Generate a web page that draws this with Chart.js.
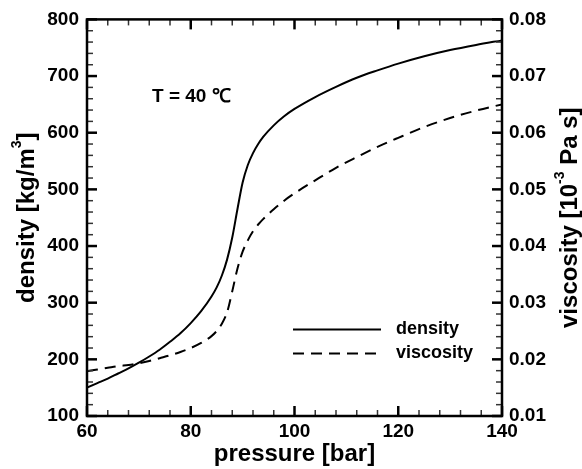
<!DOCTYPE html>
<html>
<head>
<meta charset="utf-8">
<script src="https://cdn.jsdelivr.net/npm/chart.js@4"></script>
<style>
	html, body { margin: 0; padding: 0; background: #fff; }
	#wrap { width: 582px; height: 469px; }
</style>
</head>
<body>
<div id="wrap"><canvas id="chart" width="582" height="469"></canvas></div>
<script>
'use strict';

// values
const pressure = [60, 62, 64, 66, 68, 70, 72, 74, 76, 78, 80, 82, 84, 85, 86, 87, 88, 89, 90, 91, 92, 93, 94, 96, 98, 100, 104, 108, 112, 116, 120, 125, 130, 135, 140];
const density = [150, 158, 166, 175, 184, 194, 205, 217, 231, 246, 264, 285, 311, 327, 348, 376, 415, 465, 512, 543, 564, 580, 593, 613, 629, 642, 663, 681, 697, 710, 722, 735, 746, 755, 763];
const viscosity = [0.0179, 0.0182, 0.0185, 0.0188, 0.0190, 0.0193, 0.0197, 0.0202, 0.0207, 0.0213, 0.0220, 0.0229, 0.0241, 0.0250, 0.0263, 0.0283, 0.0320, 0.0360, 0.0390, 0.0410, 0.0426, 0.0438, 0.0448, 0.0465, 0.0480, 0.0493, 0.0516, 0.0538, 0.0557, 0.0575, 0.0591, 0.0610, 0.0626, 0.0639, 0.0650];

const xTicks = [60, 80, 100, 120, 140];
const densityTicks = [100, 200, 300, 400, 500, 600, 700, 800];
const viscosityTicks = [0.01, 0.02, 0.03, 0.04, 0.05, 0.06, 0.07, 0.08];

const FONT = "'Liberation Sans', Arial, Helvetica, sans-serif";

function toPoints(ys) {
	return pressure.map((p, i) => ({ x: p, y: ys[i] }));
}

// draws a line of text where some parts are superscripts, centred on (0,0)
function richText(ctx, parts, size) {
	const supSize = Math.round(size * 0.6);
	let total = 0;
	parts.forEach(function (part) {
		ctx.font = 'bold ' + (part.sup ? supSize : size) + 'px ' + FONT;
		part.w = ctx.measureText(part.t).width;
		total += part.w;
	});
	let x = -total / 2;
	ctx.textAlign = 'left';
	ctx.textBaseline = 'middle';
	parts.forEach(function (part) {
		ctx.font = 'bold ' + (part.sup ? supSize : size) + 'px ' + FONT;
		ctx.fillText(part.t, x, part.sup ? -size * 0.42 : 0);
		x += part.w;
	});
}

const decorations = {
	id: 'decorations',
	afterDraw(chart) {
		const ctx = chart.ctx;
		const area = chart.chartArea;
		const sx = chart.scales.x;
		const sy = chart.scales.y;
		const sy2 = chart.scales.y2;
		ctx.save();
		ctx.strokeStyle = '#000';
		ctx.fillStyle = '#000';
		ctx.lineCap = 'butt';

		function tick(x1, y1, x2, y2, major) {
			ctx.lineWidth = major ? 2.5 : 1.5;
			ctx.strokeStyle = major ? '#000' : '#333';
			ctx.beginPath();
			ctx.moveTo(x1, y1);
			ctx.lineTo(x2, y2);
			ctx.stroke();
		}

		// x ticks, bottom and top, pointing inward
		for (let i = 0; i <= 20; i++) {
			const px = sx.getPixelForValue(60 + i * 4);
			const major = i % 5 === 0;
			const len = major ? 10 : 6;
			tick(px, area.bottom, px, area.bottom - len, major);
			tick(px, area.top, px, area.top + len, major);
		}
		// left ticks (density)
		for (let i = 0; i <= 35; i++) {
			const py = sy.getPixelForValue(100 + i * 20);
			const major = i % 5 === 0;
			tick(area.left, py, area.left + (major ? 10 : 6), py, major);
		}
		// right ticks (viscosity)
		for (let i = 0; i <= 35; i++) {
			const py = sy2.getPixelForValue(0.01 + i * 0.002);
			const major = i % 5 === 0;
			tick(area.right, py, area.right - (major ? 10 : 6), py, major);
		}

		// frame
		ctx.strokeStyle = '#000';
		ctx.lineWidth = 2.5;
		ctx.strokeRect(area.left, area.top, area.right - area.left, area.bottom - area.top);

		// temperature note
		ctx.font = 'bold 19px ' + FONT;
		ctx.textAlign = 'left';
		ctx.textBaseline = 'middle';
		ctx.fillText('T = 40 \u2103', area.left + 65, area.top + 77);

		// legend
		const lx1 = area.left + 206;
		const lx2 = area.left + 294;
		chart.data.datasets.forEach(function (ds, i) {
			const ly = area.top + 310 + i * 24;
			ctx.lineWidth = ds.borderWidth;
			ctx.setLineDash(ds.borderDash || []);
			ctx.beginPath();
			ctx.moveTo(lx1, ly);
			ctx.lineTo(lx2, ly);
			ctx.stroke();
			ctx.setLineDash([]);
			ctx.font = 'bold 18px ' + FONT;
			ctx.fillText(ds.label, lx2 + 15, ly);
		});

		// rotated axis titles
		const midY = (area.top + area.bottom) / 2;
		ctx.save();
		ctx.translate(27, midY);
		ctx.rotate(-Math.PI / 2);
		richText(ctx, [{ t: 'density [kg/m' }, { t: '3', sup: true }, { t: ']' }], 24);
		ctx.restore();

		ctx.save();
		ctx.translate(570, midY);
		ctx.rotate(-Math.PI / 2);
		richText(ctx, [{ t: 'viscosity [10' }, { t: '-3', sup: true }, { t: ' Pa s]' }], 24);
		ctx.restore();

		ctx.restore();
	}
};

const tickFont = { family: FONT, size: 19, weight: 'bold' };

const config = {
	type: 'line',
	data: {
		datasets: [{
			label: 'density',
			data: toPoints(density),
			yAxisID: 'y',
			borderColor: '#000',
			borderWidth: 2,
			pointRadius: 0,
			fill: false,
			cubicInterpolationMode: 'monotone'
		}, {
			label: 'viscosity',
			data: toPoints(viscosity),
			yAxisID: 'y2',
			borderColor: '#000',
			borderWidth: 2,
			borderDash: [11, 7],
			pointRadius: 0,
			fill: false,
			cubicInterpolationMode: 'monotone'
		}]
	},
	options: {
		responsive: false,
		animation: false,
		layout: { padding: { top: 16, left: 0, right: 0, bottom: 0 } },
		plugins: {
			legend: { display: false },
			tooltip: { enabled: false }
		},
		scales: {
			x: {
				type: 'linear',
				position: 'bottom',
				min: 60,
				max: 140,
				afterBuildTicks: (scale) => { scale.ticks = xTicks.map(v => ({ value: v })); },
				afterFit: (scale) => { scale.height = 53; },
				grid: { display: false, drawTicks: false },
				border: { display: false },
				ticks: { color: '#000', font: tickFont, padding: 4, maxRotation: 0 },
				title: {
					display: true,
					text: 'pressure [bar]',
					color: '#000',
					font: { family: FONT, size: 24, weight: 'bold' },
					padding: { top: 0, bottom: 0 }
				}
			},
			y: {
				type: 'linear',
				position: 'left',
				min: 100,
				max: 800,
				afterBuildTicks: (scale) => { scale.ticks = densityTicks.map(v => ({ value: v })); },
				afterFit: (scale) => { scale.width = 87; },
				grid: { display: false, drawTicks: false },
				border: { display: false },
				ticks: { color: '#000', font: tickFont, padding: 8 }
			},
			y2: {
				type: 'linear',
				position: 'right',
				min: 0.01,
				max: 0.08,
				afterBuildTicks: (scale) => { scale.ticks = viscosityTicks.map(v => ({ value: v })); },
				afterFit: (scale) => { scale.width = 80; },
				grid: { display: false, drawTicks: false },
				border: { display: false },
				ticks: {
					color: '#000',
					font: tickFont,
					padding: 7,
					callback: (value) => Number(value).toFixed(2)
				}
			}
		}
	},
	plugins: [decorations]
};

new Chart(document.getElementById('chart'), config);
</script>
</body>
</html>
